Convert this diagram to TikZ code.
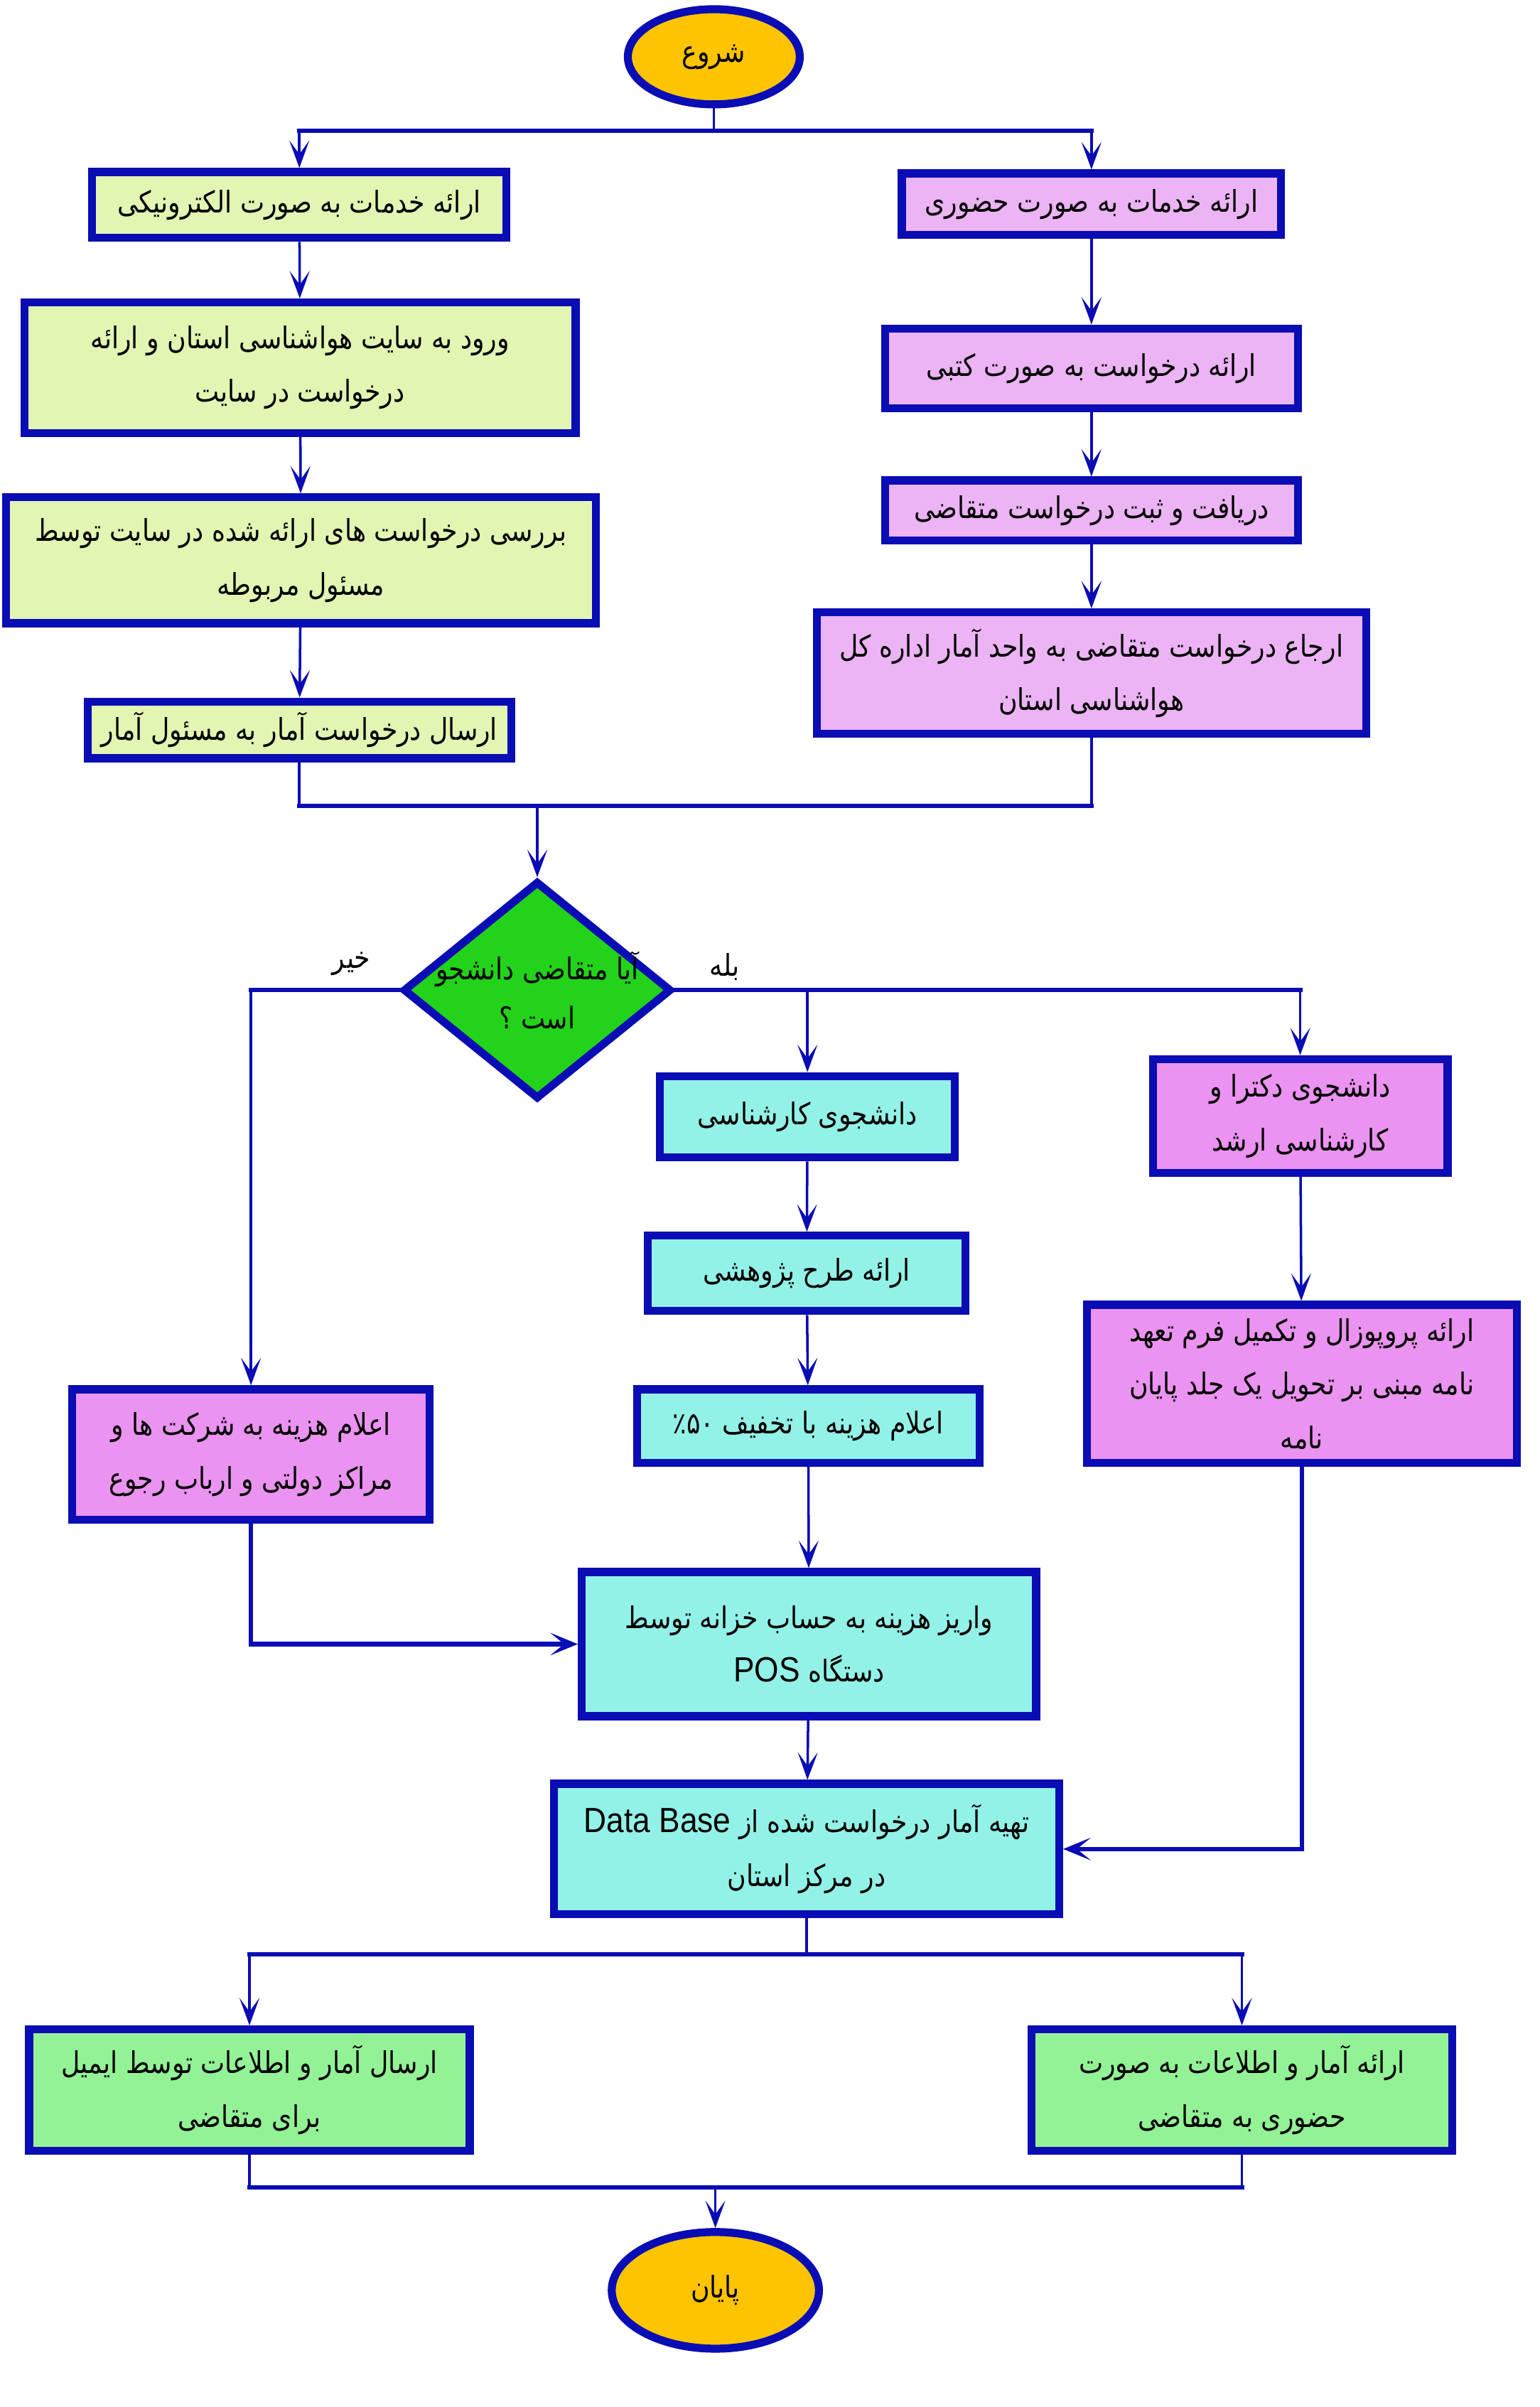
\documentclass[tikz,border=0pt]{standalone}
\usepackage{fontspec}
\TeXXeTstate=1
\newfontfamily\arabicfont[Script=Arabic,FakeStretch=0.86]{DejaVu Sans}
\newfontfamily\latinfont[FakeStretch=0.9]{Liberation Sans}
\usetikzlibrary{shapes.geometric,arrows.meta,calc}
\definecolor{bdr}{RGB}{10,12,180}
\definecolor{termc}{RGB}{255,196,0}
\definecolor{leftc}{RGB}{226,245,178}
\definecolor{rightc}{RGB}{236,180,244}
\definecolor{diac}{RGB}{34,211,26}
\definecolor{cyanc}{RGB}{147,242,232}
\definecolor{violc}{RGB}{235,147,240}
\definecolor{greenc}{RGB}{147,242,150}
\newcommand{\rtxt}[1]{\beginR #1\endR}
\newcommand{\ltxt}[1]{\beginL{\latinfont\fontsize{14pt}{21.5pt}\selectfont #1}\endL}
\begin{document}
\begin{tikzpicture}[x=0.0216cm,y=-0.0216cm,
  txt/.style={font=\arabicfont\fontsize{12pt}{21.5pt}\selectfont, align=center},
  box/.style={txt, draw=bdr, line width=3.2pt, inner sep=2pt},
  sz/.style 2 args={minimum width=#1*0.0216cm, minimum height=#2*0.0216cm},
  term/.style={txt, ellipse, draw=bdr, line width=3.2pt, fill=termc, inner sep=0pt},
  ln/.style={draw=bdr, line width=1pt},
  hl/.style={draw=bdr, line width=1.7pt, line cap=rect},
  arr/.style={ln, -{Stealth[length=11pt,width=8pt,inset=5.5pt]}},
  arrT/.style={draw=bdr, line width=1.8pt, -{Stealth[length=11pt,width=9pt,inset=5.5pt]}}
]
\fill[white] (0,0) rectangle (1003,1568);
\useasboundingbox (0,0) rectangle (1003,1568);

% terminals
\node[term, sz={112}{62}] (start) at (465,37) {\rtxt{شروع}};
\node[term, sz={135}{76}] (end) at (466,1492) {\rtxt{پایان}};

% left column
\node[box, fill=leftc, sz={270}{43}] (L1) at (195,133.5) {\rtxt{ارائه خدمات به صورت الکترونیکی}};
\node[box, fill=leftc, sz={359}{85}] (L2) at (195.5,239.5) {\rtxt{ورود به سایت هواشناسی استان و ارائه}\\ \rtxt{درخواست در سایت}};
\node[box, fill=leftc, sz={384}{82}] (L3) at (196,365) {\rtxt{بررسی درخواست های ارائه شده در سایت توسط}\\ \rtxt{مسئول مربوطه}};
\node[box, fill=leftc, sz={276}{37}] (L4) at (195,475.5) {\rtxt{ارسال درخواست آمار به مسئول آمار}};

% right column
\node[box, fill=rightc, sz={247}{40}] (R1) at (711,133) {\rtxt{ارائه خدمات به صورت حضوری}};
\node[box, fill=rightc, sz={269}{52}] (R2) at (711,240) {\rtxt{ارائه درخواست به صورت کتبی}};
\node[box, fill=rightc, sz={269}{39}] (R3) at (711,332.5) {\rtxt{دریافت و ثبت درخواست متقاضی}};
\node[box, fill=rightc, sz={358}{79}] (R4) at (711,438.5) {\rtxt{ارجاع درخواست متقاضی به واحد آمار اداره کل}\\ \rtxt{هواشناسی استان}};

% decision
\node[diamond, draw=bdr, line width=3.2pt, fill=diac, inner sep=0pt, sz={175}{142}] (dia) at (350,645) {};
\node[txt, font=\arabicfont\fontsize{12pt}{19.5pt}\selectfont] (diatext) at (350,645) {\rtxt{آیا متقاضی دانشجو}\\ \rtxt{است ؟}};
\node[txt] (no) at (229,628) {\rtxt{خیر}};
\node[txt] (yes) at (472,630) {\rtxt{بله}};

% branches
\node[box, fill=violc, sz={233}{85}] (cost) at (163.5,947.5) {\rtxt{اعلام هزینه به شرکت ها و}\\ \rtxt{مراکز دولتی و ارباب رجوع}};
\node[box, fill=cyanc, sz={192}{53}] (bsc) at (526,727.5) {\rtxt{دانشجوی کارشناسی}};
\node[box, fill=violc, sz={192}{74}] (phd) at (847,727) {\rtxt{دانشجوی دکترا و}\\ \rtxt{کارشناسی ارشد}};
\node[box, fill=cyanc, sz={207}{49}] (plan) at (525.5,829.5) {\rtxt{ارائه طرح پژوهشی}};
\node[box, fill=cyanc, sz={223}{48}] (disc) at (526.5,929) {\rtxt{اعلام هزینه با تخفیف ٪۵۰}};
\node[box, fill=violc, sz={280}{103}] (prop) at (848,901.5) {\rtxt{ارائه پروپوزال و تکمیل فرم تعهد}\\ \rtxt{نامه مبنی بر تحویل یک جلد پایان}\\ \rtxt{نامه}};
\node[box, fill=cyanc, sz={296}{94}] (pay) at (527,1071) {\rtxt{واریز هزینه به حساب خزانه توسط}\\ \rtxt{دستگاه \ltxt{POS}}};
\node[box, fill=cyanc, sz={329}{85}] (db) at (525.5,1204.5) {\rtxt{تهیه آمار درخواست شده از \ltxt{Data Base}}\\ \rtxt{در مرکز استان}};
\node[box, fill=greenc, sz={287}{79}] (mail) at (162.5,1361.5) {\rtxt{ارسال آمار و اطلاعات توسط ایمیل}\\ \rtxt{برای متقاضی}};
\node[box, fill=greenc, sz={274}{79}] (inp) at (809,1361.5) {\rtxt{ارائه آمار و اطلاعات به صورت}\\ \rtxt{حضوری به متقاضی}};

% connectors: start split
\coordinate (s1) at (start.south |- 0,85);
\draw[ln] (start.south) -- (s1);
\draw[hl] (L1.north |- s1) -- (R1.north |- s1);
\draw[arr] (L1.north |- s1) -- (L1.north);
\draw[arr] (R1.north |- s1) -- (R1.north);
\draw[arr] (L1) -- (L2);
\draw[arr] (L2) -- (L3);
\draw[arr] (L3) -- (L4);
\draw[arr] (R1) -- (R2);
\draw[arr] (R2) -- (R3);
\draw[arr] (R3) -- (R4);

% merge
\coordinate (m1) at (dia.north |- 0,525);
\draw[ln] (L4.south) -- (L4.south |- m1);
\draw[ln] (R4.south) -- (R4.south |- m1);
\draw[hl] (L4.south |- m1) -- (R4.south |- m1);
\draw[arr] (m1) -- (dia.north);

% decision outputs
\draw[hl] (dia.west) -- (cost.north |- dia.west);
\draw[arr] (cost.north |- dia.west) -- (cost.north);
\draw[hl] (dia.east) -- (phd.north |- dia.east);
\draw[arr] (phd.north |- dia.east) -- (phd.north);
\draw[arr] (bsc.north |- dia.east) -- (bsc.north);

\draw[arr] (bsc) -- (plan);
\draw[arr] (plan) -- (disc);
\draw[arr] (disc) -- (pay);
\draw[arrT] (cost.south) |- (pay.west);
\draw[arr] (phd) -- (prop);
\draw[arrT] (prop.south) |- (db.east);
\draw[arr] (pay) -- (db);

% output split
\coordinate (s2) at (db.south |- 0,1273);
\draw[ln] (db.south) -- (s2);
\draw[hl] (mail.north |- s2) -- (inp.north |- s2);
\draw[arr] (mail.north |- s2) -- (mail.north);
\draw[arr] (inp.north |- s2) -- (inp.north);

% final merge
\coordinate (m2) at (end.north |- 0,1425);
\draw[ln] (mail.south) -- (mail.south |- m2);
\draw[ln] (inp.south) -- (inp.south |- m2);
\draw[hl] (mail.south |- m2) -- (inp.south |- m2);
\draw[arr] (m2) -- (end.north);
\end{tikzpicture}
\end{document}
